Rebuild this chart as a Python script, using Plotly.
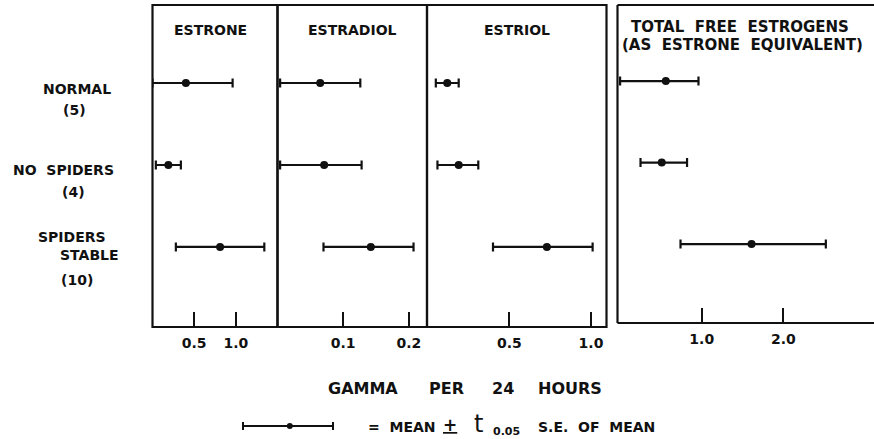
import plotly.graph_objects as go

W, H = 874, 439

# ---------------- data (gamma per 24 hours) ----------------
groups = ["NORMAL (5)", "NO SPIDERS (4)", "SPIDERS STABLE (10)"]
rows = [0, 1, 2]

estrone_lo = [0.00, 0.04, 0.28]
estrone_mean = [0.40, 0.19, 0.81]
estrone_hi = [0.96, 0.34, 1.34]

estradiol_lo = [0.004, 0.004, 0.070]
estradiol_mean = [0.065, 0.071, 0.142]
estradiol_hi = [0.126, 0.128, 0.207]

estriol_lo = [0.05, 0.06, 0.40]
estriol_mean = [0.12, 0.19, 0.73]
estriol_hi = [0.19, 0.31, 1.01]

total_lo = [0.00, 0.25, 0.74]
total_mean = [0.56, 0.51, 1.61]
total_hi = [0.96, 0.82, 2.52]

estrone_ticks = [0.5, 1.0]
estrone_ticklabels = ["0.5", "1.0"]
estradiol_ticks = [0.1, 0.2]
estradiol_ticklabels = ["0.1", "0.2"]
estriol_ticks = [0.5, 1.0]
estriol_ticklabels = ["0.5", "1.0"]
total_ticks = [1.0, 2.0]
total_ticklabels = ["1.0", "2.0"]

legend_lo = [0.0]
legend_mean = [0.52]
legend_hi = [1.0]

# ---------------- layout helpers ----------------
INK = "#111111"
FONT = "DejaVu Sans"


def px(x):
    return x / W


def py(y):
    return 1 - y / H


panels = [
    dict(ax="x", ay="y", lo=estrone_lo, mean=estrone_mean, hi=estrone_hi,
         ticks=estrone_ticks, labels=estrone_ticklabels,
         dom=[152.5, 277.5], rng=[0.0, 1.498]),
    dict(ax="x2", ay="y", lo=estradiol_lo, mean=estradiol_mean, hi=estradiol_hi,
         ticks=estradiol_ticks, labels=estradiol_ticklabels,
         dom=[277.5, 427.0], rng=[0.0, 0.2275]),
    dict(ax="x3", ay="y", lo=estriol_lo, mean=estriol_mean, hi=estriol_hi,
         ticks=estriol_ticks, labels=estriol_ticklabels,
         dom=[427.0, 606.5], rng=[-0.004, 1.095]),
    dict(ax="x4", ay="y2", lo=total_lo, mean=total_mean, hi=total_hi,
         ticks=total_ticks, labels=total_ticklabels,
         dom=[617.5, 874.0], rng=[-0.032, 3.11]),
]

fig = go.Figure()

for p in panels:
    plus = [h - m for h, m in zip(p["hi"], p["mean"])]
    minus = [m - l for m, l in zip(p["mean"], p["lo"])]
    fig.add_trace(go.Scatter(
        x=p["mean"], y=rows, xaxis=p["ax"], yaxis=p["ay"],
        mode="markers", showlegend=False, hoverinfo="skip",
        marker=dict(size=8, color=INK),
        error_x=dict(type="data", symmetric=False, array=plus, arrayminus=minus,
                     thickness=2.2, width=4.5, color=INK),
    ))

# legend key error bar
fig.add_trace(go.Scatter(
    x=legend_mean, y=[0], xaxis="x5", yaxis="y5",
    mode="markers", showlegend=False, hoverinfo="skip",
    marker=dict(size=6, color=INK),
    error_x=dict(type="data", symmetric=False,
                 array=[legend_hi[0] - legend_mean[0]],
                 arrayminus=[legend_mean[0] - legend_lo[0]],
                 thickness=2, width=4, color=INK),
))

tickfont = dict(family=FONT, size=14, color=INK, weight="bold")
layout = dict(
    width=W, height=H, margin=dict(l=0, r=0, t=0, b=0),
    paper_bgcolor="white", plot_bgcolor="white", showlegend=False,
)
for i, p in enumerate(panels):
    key = "xaxis" if i == 0 else f"xaxis{i + 1}"
    layout[key] = dict(
        domain=[px(p["dom"][0]), px(p["dom"][1])], range=p["rng"],
        anchor=p["ay"], tickmode="array", tickvals=p["ticks"], ticktext=p["labels"],
        ticks="inside", ticklen=15, tickwidth=2, tickcolor=INK,
        tickfont=tickfont, ticklabelstandoff=6,
        showgrid=False, zeroline=False, showline=False, fixedrange=True,
    )

layout["yaxis"] = dict(domain=[py(327), py(5)], range=[2.976, -0.951], anchor="x",
                       visible=False, fixedrange=True)
layout["yaxis2"] = dict(domain=[py(323), py(5)], range=[2.969, -0.933], anchor="x4",
                        visible=False, fixedrange=True)
layout["xaxis5"] = dict(domain=[px(233), px(343)], range=[-0.111, 1.111], anchor="y5",
                        visible=False, fixedrange=True)
layout["yaxis5"] = dict(domain=[0.0, py(426) * 2], range=[-1, 1], anchor="x5",
                        visible=False, fixedrange=True)

# frames
shapes = []
for xr in ["x", "x2", "x3"]:
    shapes.append(dict(type="rect", xref=f"{xr} domain", yref="y domain",
                       x0=0, x1=1, y0=0, y1=1, line=dict(color=INK, width=2.2)))
# total panel: open on the right (runs off the page)
shapes.append(dict(type="line", xref="x4 domain", yref="y2 domain",
                   x0=0, x1=0, y0=0, y1=1, line=dict(color=INK, width=2.2)))
shapes.append(dict(type="line", xref="x4 domain", yref="y2 domain",
                   x0=0, x1=1, y0=0, y1=0, line=dict(color=INK, width=2.2)))
shapes.append(dict(type="line", xref="x4 domain", yref="y2 domain",
                   x0=0, x1=1, y0=1, y1=1, line=dict(color=INK, width=2.2)))
layout["shapes"] = shapes

NB = "\u00a0"


def ann(text, x, y, size=14, xanchor="center", weight="bold"):
    return dict(text=text, x=px(x), y=py(y), xref="paper", yref="paper",
                xanchor=xanchor, yanchor="middle", showarrow=False,
                font=dict(family=FONT, size=size, color=INK, weight=weight))


annotations = [
    ann("ESTRONE", 210, 30),
    ann("ESTRADIOL", 352, 30),
    ann("ESTRIOL", 517, 30),
    ann(f"TOTAL{NB*2}FREE{NB*2}ESTROGENS", 740, 27, size=15),
    ann(f"(AS{NB*2}ESTRONE{NB*2}EQUIVALENT)", 742, 45, size=15),
    # row labels
    ann("NORMAL", 77, 89),
    ann("(5)", 74, 110),
    ann(f"NO{NB*2}SPIDERS", 63, 170),
    ann("(4)", 73, 192),
    ann("SPIDERS", 72, 237),
    ann("STABLE", 89, 255),
    ann("(10)", 77, 280),
    # axis title
    ann("GAMMA", 363, 388, size=16),
    ann("PER", 446, 388, size=16),
    ann("24", 503, 388, size=16),
    ann("HOURS", 570, 388, size=16),
    # legend text
    ann(f"={NB*2}MEAN", 366, 427, size=14, xanchor="left"),
    ann("<u>+</u>", 450, 425, size=17),
    ann("t", 478, 424, size=24, weight="normal"),
    ann("0.05", 507, 431, size=11),
    ann(f"S.E.{NB*2}OF{NB*2}MEAN", 536, 427, size=14, xanchor="left"),
]
layout["annotations"] = annotations

fig.update_layout(**layout)
fig.write_html("out.html", config={"displayModeBar": False},
               post_script="document.body.style.margin='0';document.body.style.overflow='hidden';")
